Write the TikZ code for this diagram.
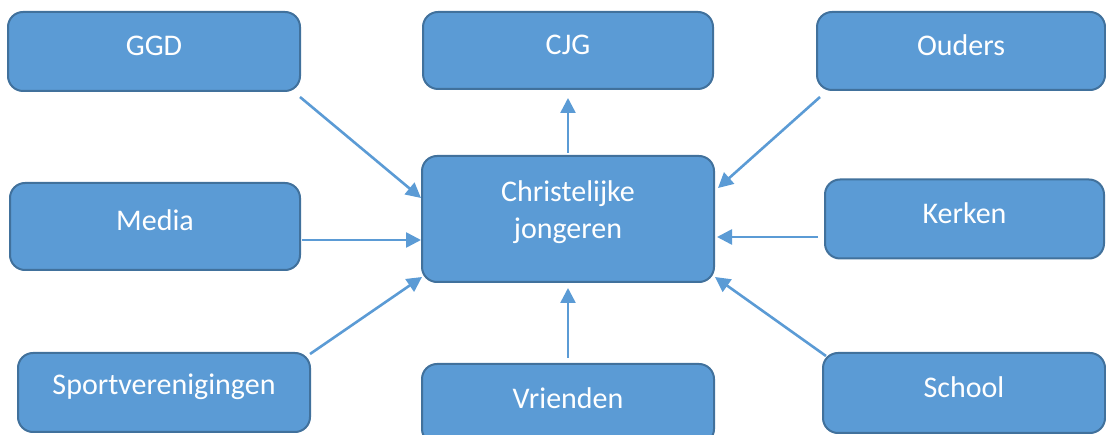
\documentclass[tikz,border=0pt]{standalone}
\usepackage{fontspec}
\setmainfont{Carlito}
\usetikzlibrary{arrows.meta}
\definecolor{boxfill}{HTML}{5B9BD5}
\definecolor{boxline}{HTML}{41719C}
\definecolor{arrowc}{HTML}{5B9BD5}
\newcommand{\uptext}[1]{\raisebox{6pt}[\height][\depth]{#1}}
\tikzset{
  ent/.style={draw=boxline, line width=2pt, fill=boxfill, rounded corners=15pt,
    inner sep=0pt, text=white, font=\fontsize{30}{37}\selectfont, align=center},
  conn/.style={draw=arrowc, line width=2.6pt, -{Triangle[length=15pt,width=15pt]}}
}
\begin{document}
\begin{tikzpicture}[x=1pt,y=-1pt]
\useasboundingbox (0,0) rectangle (1106,435);
\clip (0,0) rectangle (1106,435);
\node[ent, minimum width=292pt, minimum height=79pt] (ggd) at (154,51.5) {\uptext{GGD}};
\node[ent, minimum width=290pt, minimum height=77pt] (cjg) at (568,50.5) {\uptext{CJG}};
\node[ent, minimum width=288pt, minimum height=78pt] (ouders) at (961,51) {\uptext{Ouders}};
\node[ent, minimum width=290pt, minimum height=87pt] (media) at (155,226.5) {\uptext{Media}};
\node[ent, minimum width=292pt, minimum height=126pt] (cj) at (568,219) {\uptext{\begin{tabular}{@{}c@{}}Christelijke\\jongeren\end{tabular}}};
\node[ent, minimum width=279pt, minimum height=79pt] (kerken) at (964.5,219) {\uptext{Kerken}};
\node[ent, minimum width=292pt, minimum height=79pt] (sport) at (164,392.5) {\uptext{Sportverenigingen}};
\node[ent, minimum width=292pt, minimum height=80pt] (vrienden) at (568,404) {\uptext{Vrienden}};
\node[ent, minimum width=282pt, minimum height=80pt] (school) at (964,393) {\uptext{School}};

\draw[conn] ([xshift=-1pt,yshift=-5pt]ggd.south east) -- ([yshift=21pt]cj.west);
\draw[conn] ([yshift=2pt]cj.north) -- ([yshift=-8pt]cjg.south);
\draw[conn] ([xshift=4pt,yshift=-6pt]ouders.south west) -- ([xshift=3pt,yshift=31pt]cj.east);
\draw[conn] ([xshift=1pt,yshift=-13.5pt]media.east) -- ([yshift=-21pt]cj.west);
\draw[conn] ([xshift=-6pt,yshift=-18pt]kerken.west) -- ([xshift=2pt,yshift=-18pt]cj.east);
\draw[conn] ([xshift=-1pt,yshift=-2pt]sport.north east) -- ([xshift=1pt,yshift=6pt]cj.south west);
\draw[conn] ([yshift=5pt]vrienden.north) -- ([yshift=-5pt]cj.south);
\draw[conn] ([xshift=4pt,yshift=-4pt]school.north west) -- ([yshift=6pt]cj.south east);
\end{tikzpicture}
\end{document}
